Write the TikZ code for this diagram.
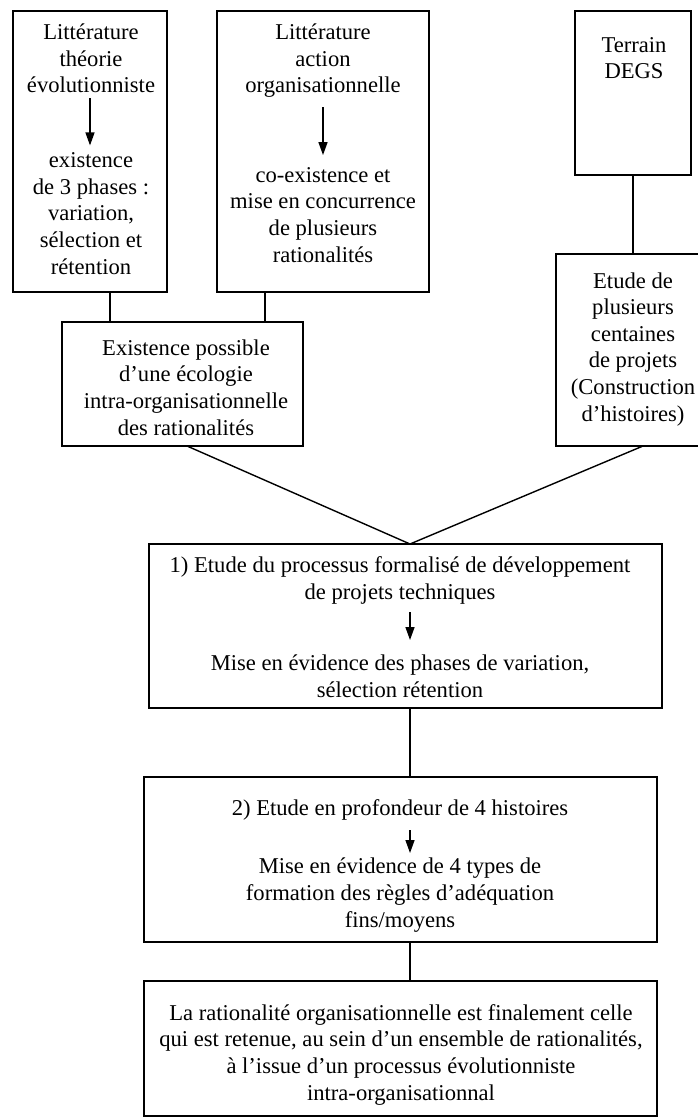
\documentclass[tikz,border=0pt]{standalone}
\usepackage{fontspec}
\setmainfont{Liberation Serif}
\usetikzlibrary{arrows.meta}
\begin{document}
\begin{tikzpicture}[x=1pt,y=-1pt,
  box/.style={draw, line width=1.5pt, inner sep=0pt, outer sep=0pt},
  txt/.style={align=center, inner sep=0pt, anchor=base, font=\fontsize{22.6}{26.6}\selectfont},
  link/.style={line width=1.4pt},
  arr/.style={line width=1.4pt, -{Triangle[length=13pt,width=9pt]}}]
\useasboundingbox (0,0) rectangle (698,1118);
% boxes
\node[box, minimum width=154, minimum height=281] (A) at (90,151.5) {};
\node[box, minimum width=212, minimum height=281] (B) at (323,151.5) {};
\node[box, minimum width=116, minimum height=164] (C) at (633,93) {};
\node[box, minimum width=146, minimum height=192] (D) at (629,350) {};
\node[box, minimum width=241, minimum height=124] (E) at (182.5,384) {};
\node[box, minimum width=513, minimum height=164] (F) at (405.5,626) {};
\node[box, minimum width=513, minimum height=165] (G) at (400.5,859.5) {};
\node[box, minimum width=513, minimum height=135] (H) at (400.5,1048.5) {};
% texts (anchor = baseline of last line)
\node[txt] (At) at (91,93) {Littérature\\théorie\\évolutionniste};
\node[txt] (Ab) at (91,274) {existence\\de 3 phases :\\variation,\\sélection et\\rétention};
\node[txt] (Bt) at (323,93) {Littérature\\action\\organisationnelle};
\node[txt] (Bb) at (323,262) {co-existence et\\mise en concurrence\\de plusieurs\\rationalités};
\node[txt] (Ct) at (634,79) {Terrain\\DEGS};
\node[txt] (Dt) at (633,421) {Etude de\\plusieurs\\centaines\\de projets\\(Construction\\d’histoires)};
\node[txt] (Et) at (186,435) {Existence possible\\d’une écologie\\intra-organisationnelle\\des rationalités};
\node[txt] (Ft) at (400,599) {1) Etude du processus formalisé de développement\\de projets techniques};
\node[txt] (Fb) at (400,697) {Mise en évidence des phases de variation,\\sélection rétention};
\node[txt] (Gt) at (400,815) {2) Etude en profondeur de 4 histoires};
\node[txt] (Gb) at (400,927) {Mise en évidence de 4 types de\\formation des règles d’adéquation\\fins/moyens};
\node[txt] (Ht) at (401,1100) {La rationalité organisationnelle est finalement celle\\qui est retenue, au sein d’un ensemble de rationalités,\\à l’issue d’un processus évolutionniste\\intra-organisationnal};
% arrows inside boxes
\draw[arr] (At.south -| 90,0) ++(0,5) -- ++(0,47);
\draw[arr] (Bt.south -| 323,0) ++(0,9) -- ++(0,48);
\draw[arr] (Ft.south -| 410,0) ++(0,8) -- ++(0,28);
\draw[arr] (Gt.south -| 410,0) ++(0,10) -- ++(0,23);
% connectors
\draw[link] (A.south -| 110,0) -- (E.north -| 110,0);
\draw[link] (B.south -| 265,0) -- (E.north -| 265,0);
\draw[link] (C.south) -- (D.north -| C.south);
\draw[link] (E.south -| 187,0) -- (F.north -| 410,0);
\draw[link] (D.south -| 643,0) -- (F.north -| 410,0);
\draw[link] (F.south -| 410,0) -- (G.north -| 410,0);
\draw[link] (G.south -| 410,0) -- (H.north -| 410,0);
\end{tikzpicture}
\end{document}
